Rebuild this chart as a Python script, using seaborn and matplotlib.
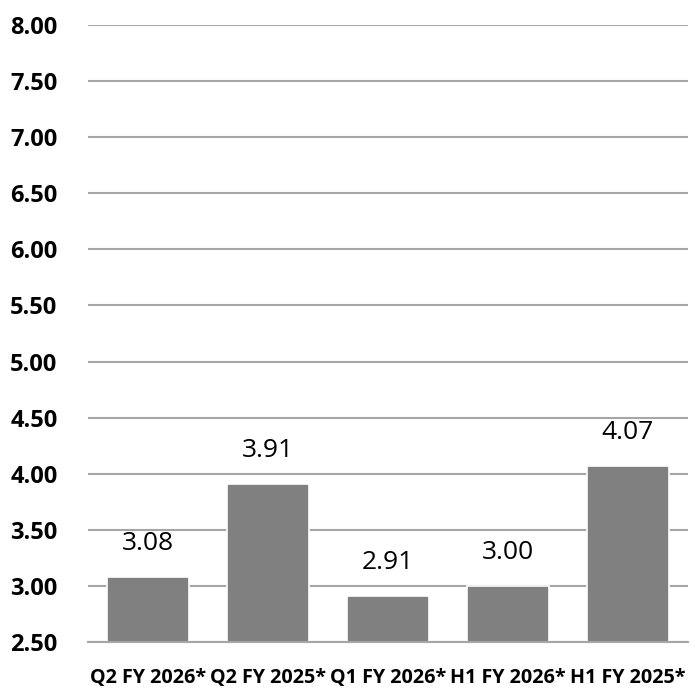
import matplotlib
matplotlib.use("Agg")
import matplotlib.pyplot as plt
import seaborn as sns
import numpy as np
import pandas as pd

categories = ["Q2 FY 2026*", "Q2 FY 2025*", "Q1 FY 2026*", "H1 FY 2026*", "H1 FY 2025*"]
values = [3.08, 3.91, 2.91, 3.00, 4.07]
y_ticks = [2.50, 3.00, 3.50, 4.00, 4.50, 5.00, 5.50, 6.00, 6.50, 7.00, 7.50, 8.00]

sns.set_theme(style="white")
plt.rcParams["font.family"] = ["Open Sans", "DejaVu Sans"]

df = pd.DataFrame({"period": categories, "eps": values})

fig = plt.figure(figsize=(6.95, 6.93), dpi=100)
ax = fig.add_axes([0.1266, 0.0736, 0.8633, 0.8903])

ax.set_axisbelow(True)
ax.yaxis.grid(True, color="#a6a6a6", linewidth=1.5)
sns.barplot(data=df, x="period", y="eps", color="#808080", saturation=1,
            width=0.69, edgecolor="white", linewidth=1.2, ax=ax)

tick_font = dict(family=["Open Sans", "DejaVu Sans"], weight="bold", color="black")

ax.set_ylim(y_ticks[0], y_ticks[-1])
ax.set_yticks(y_ticks)
ax.set_yticklabels([f"{t:.2f}" for t in y_ticks], fontsize=17, **tick_font)
ax.set_xlim(-0.5, len(categories) - 0.5)
ax.set_xticks(range(len(categories)))
ax.set_xticklabels(categories, fontsize=14.2, **tick_font)
ax.set_xlabel("")
ax.set_ylabel("")

# boundary tick marks between categories
ax.set_xticks(np.arange(-0.5, len(categories)), minor=True)
ax.tick_params(axis="x", which="major", length=0, pad=19)
ax.tick_params(axis="x", which="minor", length=7, width=1.5, color="#a6a6a6", direction="out")
ax.tick_params(axis="y", length=0, pad=22)

for s in ["top", "right", "left"]:
    ax.spines[s].set_visible(False)
ax.spines["bottom"].set_color("#a6a6a6")
ax.spines["bottom"].set_linewidth(1.5)

for i, v in enumerate(values):
    ax.annotate(f"{v:.2f}", (i, v), xytext=(0, 24), textcoords="offset points",
                ha="center", va="center", fontsize=19, color="black")

fig.savefig("out.png", dpi=100)
